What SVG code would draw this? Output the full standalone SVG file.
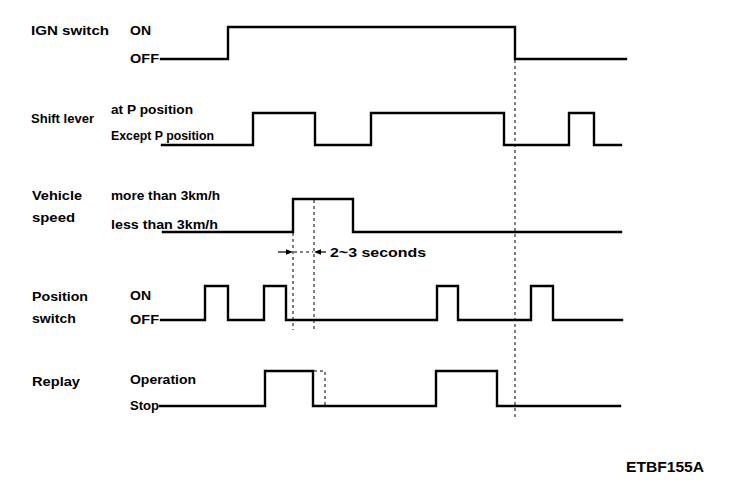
<svg xmlns="http://www.w3.org/2000/svg" width="752" height="490" viewBox="0 0 752 490">
<style>
.t{font-family:"Liberation Sans",Arial,Helvetica,sans-serif;font-weight:bold;font-size:13px;fill:#000}
.sig{fill:none;stroke:#000;stroke-width:2.4;stroke-linejoin:miter;stroke-linecap:square}
.dot{fill:none;stroke:#000;stroke-width:1;stroke-dasharray:3 3}
.arr{fill:none;stroke:#000;stroke-width:1.2}
.ah{fill:#000}
</style>
<rect width="752" height="490" fill="#fff"/>
<g id="ign">
<text class="t" x="31" y="35" textLength="78" lengthAdjust="spacingAndGlyphs">IGN switch</text>
<text class="t" x="130" y="35" textLength="21" lengthAdjust="spacingAndGlyphs">ON</text>
<text class="t" x="130" y="63" textLength="29" lengthAdjust="spacingAndGlyphs">OFF</text>
<path class="sig" d="M161,59 H228 V27 H515 V59 H626"/>
</g>
<g id="shift">
<text class="t" x="31" y="123" textLength="63" lengthAdjust="spacingAndGlyphs">Shift lever</text>
<text class="t" x="111" y="114" textLength="82" lengthAdjust="spacingAndGlyphs">at P position</text>
<text class="t" x="111" y="139.5" textLength="103" lengthAdjust="spacingAndGlyphs">Except P position</text>
<path class="sig" d="M162,145 H253 V113 H315 V145 H371 V113 H504 V145 H569 V113 H594 V145 H621"/>
</g>
<g id="speed">
<text class="t" x="32" y="200" textLength="50" lengthAdjust="spacingAndGlyphs">Vehicle</text>
<text class="t" x="32" y="222" textLength="43" lengthAdjust="spacingAndGlyphs">speed</text>
<text class="t" x="111" y="200" textLength="109" lengthAdjust="spacingAndGlyphs">more than 3km/h</text>
<text class="t" x="111" y="229" textLength="107" lengthAdjust="spacingAndGlyphs">less than 3km/h</text>
<path class="sig" d="M163,232 H293 V199 H353 V232 H621"/>
</g>
<g id="position">
<text class="t" x="32" y="301" textLength="56" lengthAdjust="spacingAndGlyphs">Position</text>
<text class="t" x="32" y="323" textLength="44" lengthAdjust="spacingAndGlyphs">switch</text>
<text class="t" x="130" y="300" textLength="21" lengthAdjust="spacingAndGlyphs">ON</text>
<text class="t" x="130" y="324" textLength="29" lengthAdjust="spacingAndGlyphs">OFF</text>
<path class="sig" d="M161,320 H205 V286 H228 V320 H264 V286 H286 V320 H437 V286 H458 V320 H531 V286 H553 V320 H622"/>
</g>
<g id="replay">
<text class="t" x="32" y="386" textLength="48" lengthAdjust="spacingAndGlyphs">Replay</text>
<text class="t" x="130" y="384" textLength="66" lengthAdjust="spacingAndGlyphs">Operation</text>
<text class="t" x="130" y="410" textLength="29" lengthAdjust="spacingAndGlyphs">Stop</text>
<path class="sig" d="M160,406 H265 V371 H313 V406 H436 V371 H497 V406 H620"/>
</g>
<g id="connectors">
<path class="dot" d="M515,60 V418"/>
<path class="dot" d="M293,233 V330"/>
<path class="dot" d="M314,200 V330"/>
<path class="dot" d="M314,371 H325 V405"/>
<path class="arr" d="M278,252 H288"/>
<polygon class="ah" points="293,252 286,249.3 286,254.7"/>
<path class="dot" d="M294,252 H313"/>
<polygon class="ah" points="314,252 321,249.3 321,254.7"/>
<path class="arr" d="M320,252 H326"/>
<text class="t" x="330" y="257" textLength="96" lengthAdjust="spacingAndGlyphs">2~3 seconds</text>
</g>
<text class="t" x="626" y="472" style="font-size:14px" textLength="78" lengthAdjust="spacingAndGlyphs">ETBF155A</text>
</svg>
